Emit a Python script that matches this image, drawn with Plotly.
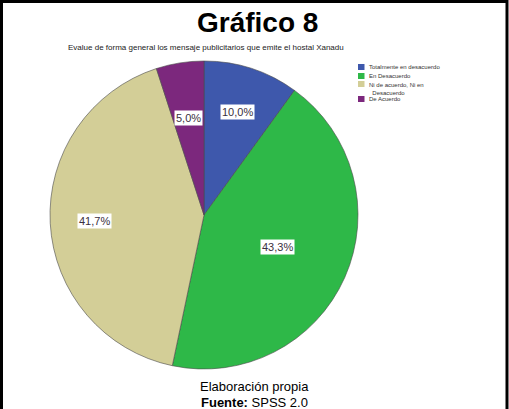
import math
import plotly.graph_objects as go

# Survey answers (share of respondents, %)
categories = ["Totalmente en desacuerdo", "En Desacuerdo",
              "Ni de acuerdo, Ni en Desacuerdo", "De Acuerdo"]
legend_text = ["Totalmente en desacuerdo", "En Desacuerdo",
               "Ni de acuerdo, Ni en<br>  Desacuerdo", "De Acuerdo"]
percentages = [10.0, 43.3, 41.7, 5.0]
colors = ["#3E58AC", "#2EB848", "#D3CE97", "#7C287D"]

W, H = 509, 409
CX, CY, R = 204, 215, 154          # pie centre and radius in pixels
label_radius = [0.70, 0.52, 0.71, 0.64]   # radial placement of value boxes


def px(x):
    return x / W


def py(y):
    return 1 - y / H


fig = go.Figure()
fig.add_trace(go.Pie(
    labels=categories,
    values=percentages,
    marker=dict(colors=colors, line=dict(color="#4a4a4a", width=0.6)),
    sort=False,
    direction="clockwise",
    rotation=0,
    textinfo="none",
    hoverinfo="label+percent",
    showlegend=False,
    domain=dict(x=[px(CX - R), px(CX + R)], y=[py(CY + R), py(CY - R)]),
))

annotations = []
shapes = []

# value boxes at each slice's mid-angle
total = sum(percentages)
start = 0.0
for v, f in zip(percentages, label_radius):
    mid = (start + v / 2) / total * 2 * math.pi
    start += v
    x = CX + R * f * math.sin(mid)
    y = CY - R * f * math.cos(mid)
    annotations.append(dict(
        x=px(x), y=py(y), xref="paper", yref="paper",
        xanchor="center", yanchor="middle",
        text=f"{v:.1f}%".replace(".", ","), showarrow=False,
        font=dict(family="Liberation Sans, Arial", size=11, color="#3a3040"),
        bgcolor="white", borderpad=1,
    ))

# legend: swatch + label
legend_rows = [67, 76, 84, 99]
for name, col, ry in zip(legend_text, colors, legend_rows):
    shapes.append(dict(type="rect", xref="paper", yref="paper",
                       x0=px(358), x1=px(364.5), y0=py(ry + 3), y1=py(ry - 3),
                       fillcolor=col, line=dict(width=0)))
    two_lines = "<br>" in name
    annotations.append(dict(
        x=px(367), y=py(ry - 4) if two_lines else py(ry),
        xref="paper", yref="paper",
        xanchor="left", yanchor="top" if two_lines else "middle",
        text=name, showarrow=False, align="left",
        font=dict(family="Liberation Sans, Arial", size=6, color="#333"),
    ))

# headings and footer
annotations += [
    dict(x=px(257), y=py(22), text="<b>Gráfico 8</b>",
         font=dict(family="Liberation Sans, Arial", size=28, color="black")),
    dict(x=px(206), y=py(47),
         text="Evalue de forma general los mensaje publicitarios que emite el hostal Xanadu",
         font=dict(family="Liberation Sans, Arial", size=8, color="#222")),
    dict(x=px(254), y=py(386), text="Elaboración propia",
         font=dict(family="Liberation Sans, Arial", size=13, color="black")),
    dict(x=px(254), y=py(402), text="<b>Fuente:</b> SPSS 2.0",
         font=dict(family="Liberation Sans, Arial", size=13, color="black")),
]
for a in annotations[-4:]:
    a.update(xref="paper", yref="paper", showarrow=False,
             xanchor="center", yanchor="middle")

# frame (top, left, right)
shapes.append(dict(type="rect", xref="paper", yref="paper",
                   x0=px(1.5), x1=px(507), y0=py(420), y1=py(1.5),
                   line=dict(color="black", width=3), fillcolor="rgba(0,0,0,0)"))

fig.update_layout(
    width=W, height=H,
    margin=dict(l=0, r=0, t=0, b=0),
    paper_bgcolor="white", plot_bgcolor="white",
    annotations=annotations, shapes=shapes,
)

fig.write_html("out.html")
